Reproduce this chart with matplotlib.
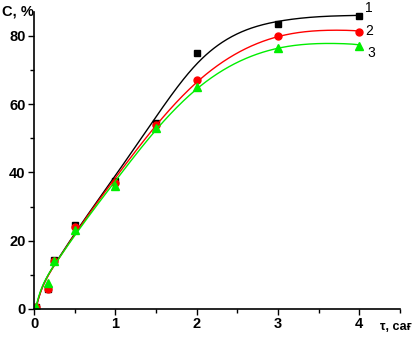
import numpy as np
import matplotlib
matplotlib.use("Agg")
import matplotlib.pyplot as plt
from matplotlib.ticker import MultipleLocator

# Data
t = [0.02, 0.17, 0.25, 0.5, 1.0, 1.5, 2.0, 3.0, 4.0]
c1 = [0.5, 6.0, 14.5, 24.5, 37.5, 54.5, 75.0, 83.5, 85.8]
c2 = [0.5, 6.0, 14.0, 24.0, 37.0, 54.0, 67.0, 80.0, 81.0]
c3 = [0.5, 7.5, 14.0, 23.0, 36.0, 53.0, 65.0, 76.5, 77.0]
series_labels = ["1", "2", "3"]
xticks = [0, 1, 2, 3, 4]
yticks = [0, 20, 40, 60, 80]


def bspline_basis(x, knots, k=3):
    x = np.asarray(x, float)
    n = len(knots) - 1
    B = np.zeros((len(x), n))
    for i in range(n):
        if knots[i] < knots[i + 1]:
            B[:, i] = (x >= knots[i]) & (x < knots[i + 1])
    last = np.where(knots < knots[-1])[0][-1]
    B[x == knots[-1], last] = 1.0
    for d in range(1, k + 1):
        Bn = np.zeros((len(x), n - d))
        for i in range(n - d):
            a = knots[i + d] - knots[i]
            b = knots[i + d + 1] - knots[i + 1]
            term = 0
            if a > 0:
                term = term + (x - knots[i]) / a * B[:, i]
            if b > 0:
                term = term + (knots[i + d + 1] - x) / b * B[:, i + 1]
            Bn[:, i] = term
        B = Bn
    return B


def pspline(x, y, xs, lam=15, nseg=30):
    lo, hi = min(x), max(x)
    inner = np.linspace(lo, hi, nseg + 1)
    knots = np.concatenate([[lo] * 3, inner, [hi] * 3])
    B = bspline_basis(x, knots)
    m = B.shape[1]
    D = np.diff(np.eye(m), 2, axis=0)
    c = np.linalg.solve(B.T @ B + lam * D.T @ D, B.T @ np.asarray(y, float))
    return bspline_basis(xs, knots) @ c


plt.rcParams['font.family'] = ['Liberation Sans', 'DejaVu Sans']

fig = plt.figure(figsize=(4.15, 3.39), dpi=100)
ax = fig.add_axes([34/415, 30/339, (400-34)/415, (309-12)/339])

colors = ['black', '#ff0000', '#00ee00']
markers = ['s', 'o', '^']
msizes = [5, 5, 5.5]
offsets = [(4.3, 5.8), (4.3, 1), (6, -4.7)]
tt = np.linspace(t[0], t[-1], 400)
for ys, col, mk, ms, lab, off in zip([c1, c2, c3], colors, markers, msizes, series_labels, offsets):
    ax.plot(tt, pspline(t, ys, tt), color=col, lw=1)
    ax.plot(t, ys, linestyle='none', marker=mk, color=col, ms=ms, mec=col)
    ax.annotate(lab, (t[-1], ys[-1]), xytext=off, textcoords='offset points',
                fontsize=10, va='center', ha='left', annotation_clip=False)

ax.set_xlim(0, 4.5)
ax.set_ylim(0, 87)
ax.spines['top'].set_visible(False)
ax.spines['right'].set_visible(False)
ax.spines['left'].set_linewidth(1.2)
ax.spines['bottom'].set_linewidth(1.2)
ax.set_xticks(xticks)
ax.set_yticks(yticks)
ax.xaxis.set_minor_locator(MultipleLocator(0.5))
ax.yaxis.set_minor_locator(MultipleLocator(10))
ax.tick_params(which='major', direction='out', length=4, width=1, labelsize=10.5, pad=2)
ax.tick_params(which='minor', direction='out', length=3, width=1)
for lbl in ax.get_xticklabels() + ax.get_yticklabels():
    lbl.set_fontweight('bold')

fig.text(2/415, 1 - 11/339, "C, %", fontsize=10.5, fontweight='bold', va='center', ha='left')
fig.text(380/415, 1 - 327/339, "τ, сағ", fontsize=9, fontweight='bold', va='center', ha='left')

fig.savefig("out.png", dpi=100)
